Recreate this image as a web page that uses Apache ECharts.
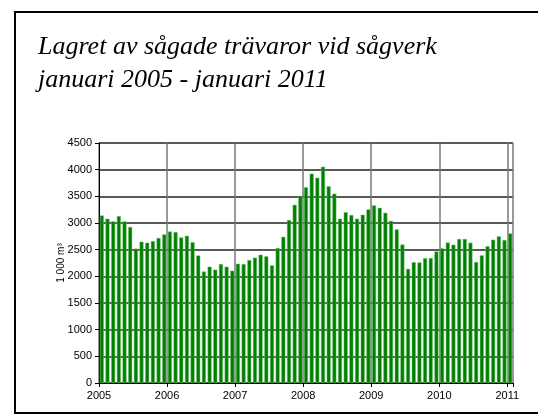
<!DOCTYPE html>
<html>
<head>
<meta charset="utf-8">
<script src="https://cdn.jsdelivr.net/npm/echarts@6/dist/echarts.min.js"></script>
<style>
  html, body { margin: 0; padding: 0; background: #fff; }
  #container { width: 538px; height: 419px; }
</style>
</head>
<body>
<div id="container"></div>
<script>
var myChart = echarts.init(document.getElementById('container'));

// monthly stock, 1 000 m3, Jan 2005 - Jan 2011
var v2005 = [3140, 3080, 3030, 3130, 3030, 2925, 2520, 2650, 2630, 2660, 2720, 2785];
var v2006 = [2840, 2830, 2730, 2760, 2640, 2390, 2090, 2180, 2125, 2230, 2180, 2105];
var v2007 = [2236, 2230, 2305, 2350, 2405, 2375, 2205, 2530, 2740, 3055, 3340, 3510];
var v2008 = [3670, 3925, 3850, 4055, 3690, 3550, 3080, 3200, 3150, 3080, 3155, 3255];
var v2009 = [3330, 3285, 3190, 3040, 2880, 2595, 2140, 2265, 2260, 2340, 2343, 2465];
var v2010 = [2525, 2633, 2593, 2700, 2700, 2630, 2268, 2393, 2562, 2687, 2750, 2680];
var v2011 = [2805];

var years = [2005, 2006, 2007, 2008, 2009, 2010, 2011];
var values = [].concat(v2005, v2006, v2007, v2008, v2009, v2010, v2011);

var months = [];
for (var i = 0; i < values.length; i++) {
  months.push(years[Math.floor(i / 12)] + '-' + (i % 12 + 1));
}

var option = {
  backgroundColor: '#fff',
  animation: false,
  title: {
    text: 'Lagret av sågade trävaror vid sågverk\njanuari 2005 - januari 2011',
    left: 33,
    top: 26,
    textStyle: {
      fontFamily: 'Liberation Serif',
      fontStyle: 'italic',
      fontWeight: 'normal',
      fontSize: 26,
      lineHeight: 33,
      color: '#000'
    }
  },
  graphic: [{
    type: 'rect',
    shape: { x: 15, y: 12, width: 530, height: 401 },
    style: { fill: 'none', stroke: '#000', lineWidth: 2 },
    z: 100
  }],
  grid: {
    left: 99,
    right: 25,
    top: 143,
    bottom: 36
  },
  xAxis: [{
    type: 'category',
    data: months,
    show: false
  }, {
    type: 'value',
    position: 'bottom',
    min: 0,
    max: values.length,
    interval: 12,
    axisLine: { show: true, lineStyle: { color: '#000', width: 1 } },
    axisTick: { show: true, length: 4, lineStyle: { color: '#000' } },
    axisLabel: {
      color: '#000',
      fontFamily: 'Liberation Sans',
      fontSize: 11,
      margin: 7,
      formatter: function (v) {
        return v % 12 === 0 ? String(years[v / 12]) : '';
      }
    },
    splitLine: { show: true, lineStyle: { color: '#777', width: 1.5 } }
  }],
  yAxis: {
    type: 'value',
    min: 0,
    max: 4500,
    interval: 500,
    name: '1 000 m³',
    nameLocation: 'middle',
    nameRotate: 90,
    nameGap: 33,
    nameMoveOverlap: false,
    nameTextStyle: { color: '#000', fontFamily: 'Liberation Sans', fontSize: 10 },
    axisLine: { show: true, lineStyle: { color: '#000', width: 1 } },
    axisTick: { show: true, length: 4, lineStyle: { color: '#000' } },
    axisLabel: {
      color: '#000',
      fontFamily: 'Liberation Sans',
      fontSize: 11,
      margin: 7,
      formatter: function (v) { return String(v); }
    },
    splitLine: { show: true, lineStyle: { color: '#222', width: 1.5 } }
  },
  series: [{
    type: 'bar',
    xAxisIndex: 0,
    data: values,
    barWidth: '70%',
    itemStyle: { color: '#008000', borderColor: '#6fbf6f', borderWidth: 0.5 }
  }]
};

myChart.setOption(option);
</script>
</body>
</html>
